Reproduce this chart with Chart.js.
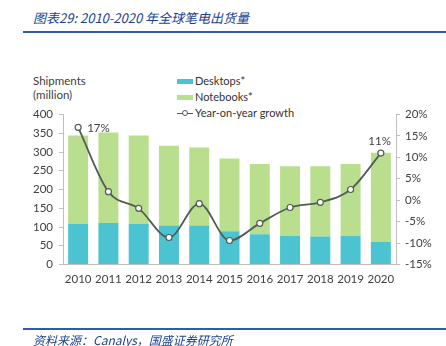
<!DOCTYPE html>
<html>
<head>
<meta charset="utf-8">
<script src="https://cdn.jsdelivr.net/npm/chart.js@4"></script>
<style>
  html, body { margin: 0; padding: 0; background: #fff; }
  body { width: 446px; height: 346px; position: relative; overflow: hidden; font-family: Lato, "Noto Sans", sans-serif; }
  #chart { position: absolute; left: 0; top: 0; }
  .title { position: absolute; left: 33px; top: 8px; font: italic 13px "Noto Sans CJK SC", sans-serif; color: #1d3f8f; white-space: nowrap; }
  .rule { position: absolute; left: 23px; right: 0; background: #2f5ca8; }
  .source { position: absolute; left: 33px; top: 331px; font: italic 12px "Noto Sans CJK SC", sans-serif; color: #1d3f8f; white-space: nowrap; }
  .ytitle { position: absolute; left: 33px; top: 74px; font: 11.5px Lato, sans-serif; color: #404040; line-height: 14px; }
  .legend { position: absolute; left: 177px; top: 73px; font: 11px Lato, sans-serif; color: #333; }
  .legend div { height: 16px; line-height: 16px; display: flex; align-items: center; white-space: nowrap; }
  .sw { display: inline-block; width: 16px; height: 5px; margin-right: 2px; }
  .ln { display: inline-block; width: 16px; height: 10px; margin-right: 2px; position: relative; }
  .ln:before { content: ""; position: absolute; left: 0; right: 0; top: 4.5px; height: 1px; background: #555; }
  .ln:after { content: ""; position: absolute; left: 5px; top: 2px; width: 4px; height: 4px; border: 1px solid #555; border-radius: 50%; background: #fff; }
</style>
</head>
<body>
<div class="title">图表29:&nbsp;2010-2020 年全球笔电出货量</div>
<div class="rule" style="top:31px;height:2px;"></div>
<div class="ytitle">Shipments<br>(million)</div>
<div class="legend">
  <div><span class="sw" style="background:#4cc3d1"></span>Desktops*</div>
  <div><span class="sw" style="background:#b9df8e"></span>Notebooks*</div>
  <div><span class="ln"></span>Year-on-year growth</div>
</div>
<canvas id="chart" width="446" height="346"></canvas>
<div class="rule" style="top:328px;height:1.5px;"></div>
<div class="source">资料来源：Canalys，国盛证券研究所</div>
<script>
// Annual PC shipments (million units) and year-on-year growth (%)
const years = ['2010', '2011', '2012', '2013', '2014', '2015', '2016', '2017', '2018', '2019', '2020'];
const desktops = [109, 111, 109, 104, 104, 89, 81, 76, 75, 76, 61];
const notebooks = [235, 241, 235, 213, 208, 194, 187, 186, 187, 192, 237];
const growth = [17, 2, -1.9, -8.7, -0.8, -9.4, -5.4, -1.7, -0.5, 2.5, 11];
const leftTicks = [0, 50, 100, 150, 200, 250, 300, 350, 400];
const rightTicks = [-15, -10, -5, 0, 5, 10, 15, 20];

const tickFont = { family: 'Lato, sans-serif', size: 11.5 };
const axisGray = '#bfbfbf';

// Labels for the first and last growth points
const growthLabels = {
  id: 'growthLabels',
  afterDatasetsDraw(chart) {
    const meta = chart.getDatasetMeta(2);
    const ctx = chart.ctx;
    ctx.save();
    ctx.font = '11.5px Lato, sans-serif';
    ctx.fillStyle = '#404040';
    ctx.textBaseline = 'middle';
    const first = meta.data[0];
    ctx.textAlign = 'left';
    ctx.fillText(growth[0] + '%', first.x + 9, first.y + 1);
    const lastIdx = growth.length - 1;
    const last = meta.data[lastIdx];
    ctx.textAlign = 'right';
    ctx.fillText(growth[lastIdx] + '%', last.x + 10, last.y - 12);
    ctx.restore();
  }
};

new Chart(document.getElementById('chart'), {
  data: {
    labels: years,
    datasets: [
      { type: 'bar', label: 'Desktops*', data: desktops, backgroundColor: '#4cc3d1', yAxisID: 'y', order: 2,
        barPercentage: 0.66, categoryPercentage: 1 },
      { type: 'bar', label: 'Notebooks*', data: notebooks, backgroundColor: '#b9df8e', yAxisID: 'y', order: 2,
        barPercentage: 0.66, categoryPercentage: 1 },
      { type: 'line', label: 'Year-on-year growth', data: growth, yAxisID: 'y1', order: 1,
        borderColor: '#535c56', borderWidth: 1.8, tension: 0.4, cubicInterpolationMode: 'monotone',
        pointRadius: 3, pointBackgroundColor: '#fff', pointBorderColor: '#535c56', pointBorderWidth: 1.2 }
    ]
  },
  options: {
    responsive: false,
    animation: false,
    layout: { padding: { top: 114.5, left: 0, right: 0, bottom: 0 } },
    plugins: { legend: { display: false }, tooltip: { enabled: false } },
    scales: {
      x: {
        stacked: true,
        grid: { display: false, drawTicks: false },
        border: { display: true, color: axisGray, width: 1 },
        ticks: { font: tickFont, color: '#404040', padding: 8, maxRotation: 0 },
        afterFit(s) { s.height = 346 - 264.5; }
      },
      y: {
        position: 'left', stacked: true, min: 0, max: 400,
        afterBuildTicks(s) { s.ticks = leftTicks.map(v => ({ value: v })); },
        grid: { drawOnChartArea: false, drawTicks: true, tickLength: 4, color: axisGray },
        border: { display: true, color: axisGray, width: 1 },
        ticks: { font: tickFont, color: '#404040', padding: 6 },
        afterFit(s) { s.width = 63; }
      },
      y1: {
        position: 'right', stacked: false, min: -15, max: 20,
        afterBuildTicks(s) { s.ticks = rightTicks.map(v => ({ value: v })); },
        grid: { drawOnChartArea: false, drawTicks: true, tickLength: 4, color: axisGray },
        border: { display: true, color: axisGray, width: 1 },
        ticks: { font: tickFont, color: '#404040', padding: 5, callback: v => v + '%' },
        afterFit(s) { s.width = 50; }
      }
    }
  },
  plugins: [growthLabels]
});
</script>
</body>
</html>
